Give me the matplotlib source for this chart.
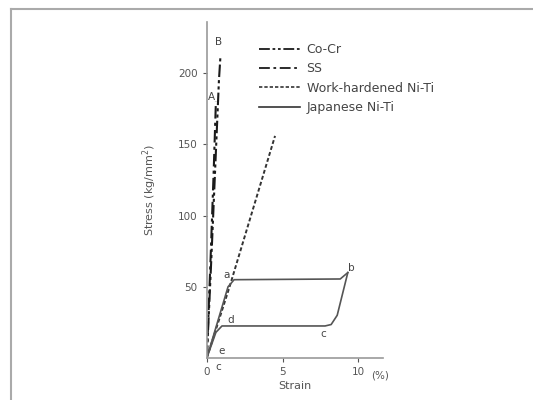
import matplotlib.pyplot as plt
from matplotlib.lines import Line2D

# Stress-strain data (strain %, stress kg/mm2)
cocr_strain = [0.0, 0.3, 0.6, 0.8, 0.9]
cocr_stress = [0.0, 70, 145, 195, 212]

ss_strain = [0.0, 0.25, 0.45, 0.6]
ss_stress = [0.0, 70, 130, 180]

wh_strain = [0.0, 1.5, 3.0, 4.5]
wh_stress = [0.0, 50, 103, 156]

# Japanese Ni-Ti: loading (0 -> a -> b), unloading (b -> c -> d -> e -> 0)
jp_load_strain = [0.0, 1.4, 1.8, 8.8, 9.3]
jp_load_stress = [0.0, 50, 55, 55.5, 60]
jp_unload_strain = [9.3, 8.6, 8.2, 7.8, 1.0, 0.6, 0.0]
jp_unload_stress = [60, 30, 23.5, 22.5, 22.5, 18, 0.0]

point_labels = ['B', 'A', 'a', 'b', 'c', 'd', 'e', 'c']
label_x = [0.75, 0.3, 1.3, 9.5, 7.7, 1.6, 1.0, 0.75]
label_y = [222, 183, 58, 63, 17, 27, 5, -6]

xticks = [0, 5, 10]
yticks = [50, 100, 150, 200]

fig = plt.figure(figsize=(5.33, 4.0), dpi=100)
ax = fig.add_axes([0.388, 0.105, 0.33, 0.84])

ink = '#1a1a1a'
ax.plot(cocr_strain, cocr_stress, color=ink, lw=1.5, dashes=[6, 1.5, 1.5, 1.5, 1.5, 1.5])
ax.plot(ss_strain, ss_stress, color=ink, lw=1.5, dashes=[6, 2, 1.5, 2])
ax.plot(wh_strain, wh_stress, color='#333333', lw=1.4, dashes=[2, 1.2])
ax.plot(jp_load_strain, jp_load_stress, color='#555555', lw=1.2)
ax.plot(jp_unload_strain, jp_unload_stress, color='#555555', lw=1.2)

for t, x, y in zip(point_labels, label_x, label_y):
    ax.text(x, y, t, fontsize=7.5, color='#444444', ha='center', va='center')

ax.set_xlim(0, 11.6)
ax.set_ylim(0, 236)
ax.set_xticks(xticks)
ax.set_yticks(yticks)
ax.tick_params(labelsize=7.5, colors='#555555', length=3, width=0.8)
for s in ['top', 'right']:
    ax.spines[s].set_visible(False)
for s in ['left', 'bottom']:
    ax.spines[s].set_color('#999999')
    ax.spines[s].set_linewidth(1.2)
ax.set_xlabel('Strain', fontsize=8, color='#555555', labelpad=3)
ax.set_ylabel('Stress (kg/mm$^2$)', fontsize=8, color='#555555', labelpad=14)
ax.text(11.4, -12, '(%)', fontsize=7.5, color='#555555', ha='center', va='center')

handles = [
    Line2D([], [], color=ink, lw=1.3, dashes=[6, 1.5, 1.5, 1.5, 1.5, 1.5]),
    Line2D([], [], color=ink, lw=1.3, dashes=[6, 2, 1.5, 2]),
    Line2D([], [], color='#333333', lw=1.2, dashes=[2, 1.2]),
    Line2D([], [], color='#333333', lw=1.2),
]
names = ['Co-Cr', 'SS', 'Work-hardened Ni-Ti', 'Japanese Ni-Ti']
leg = fig.legend(handles, names, loc='upper left', bbox_to_anchor=(0.465, 0.92),
                 frameon=False, fontsize=9, handlelength=3.3, labelspacing=0.5,
                 handletextpad=0.5)
for t in leg.get_texts():
    t.set_color('#444444')

# open grey frame, top and left edges only
fig.add_artist(Line2D([0.021, 0.021], [0.0, 0.978], color='#aaaaaa', lw=1.5))
fig.add_artist(Line2D([0.021, 1.0], [0.978, 0.978], color='#aaaaaa', lw=1.5))

plt.savefig('out.png', dpi=100)
plt.close()
